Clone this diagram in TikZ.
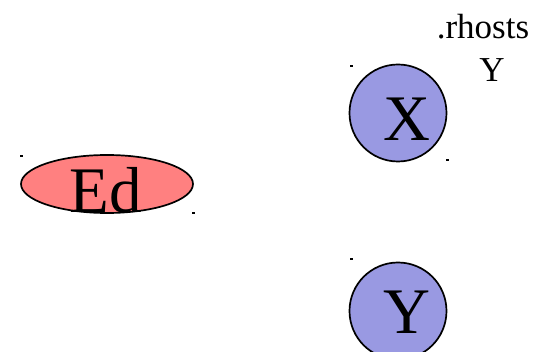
\documentclass[tikz,border=0pt]{standalone}
\usepackage{fontspec}
\setmainfont{Liberation Serif}
\usepackage{xcolor}
\usetikzlibrary{shapes.geometric}
\definecolor{edred}{RGB}{255,128,128}
\definecolor{hostblue}{RGB}{153,153,226}

\begin{document}
\begin{tikzpicture}[x=0.5pt,y=-0.5pt,
  big/.style={font=\fontsize{32.5}{38}\selectfont,inner sep=0pt},
  host/.style={draw,circle,line width=0.85pt,fill=hostblue,minimum size=48.5pt,inner sep=0pt},
  user/.style={draw,ellipse,line width=0.85pt,fill=edred,minimum width=86pt,minimum height=29pt,inner sep=0pt}]
  \useasboundingbox (0,0) rectangle (546,352);
  \clip (0,0) rectangle (546,352);
  \node[user] (ed) at (107,184) {};
  \node[big] (edtext) at (106,190) {Ed};
  \node[host] (x) at (398,113) {};
  \node[big] (xtext) at (407,119) {X};
  \node[host] (y) at (398,311) {};
  \node[big] (ytext) at (407,312) {Y};
  \node[align=center,inner sep=0pt,font=\fontsize{17.5}{21.5}\selectfont] (rhosts) at (483,48) {.rhosts\\\hspace*{9pt}Y};
  % corner ticks
  \foreach \p in {(21,156),(193,213),(351,66),(447,160),(351,259)}
    \fill \p ++(-1,-0.7) rectangle ++(2.5,1.5);
\end{tikzpicture}
\end{document}
